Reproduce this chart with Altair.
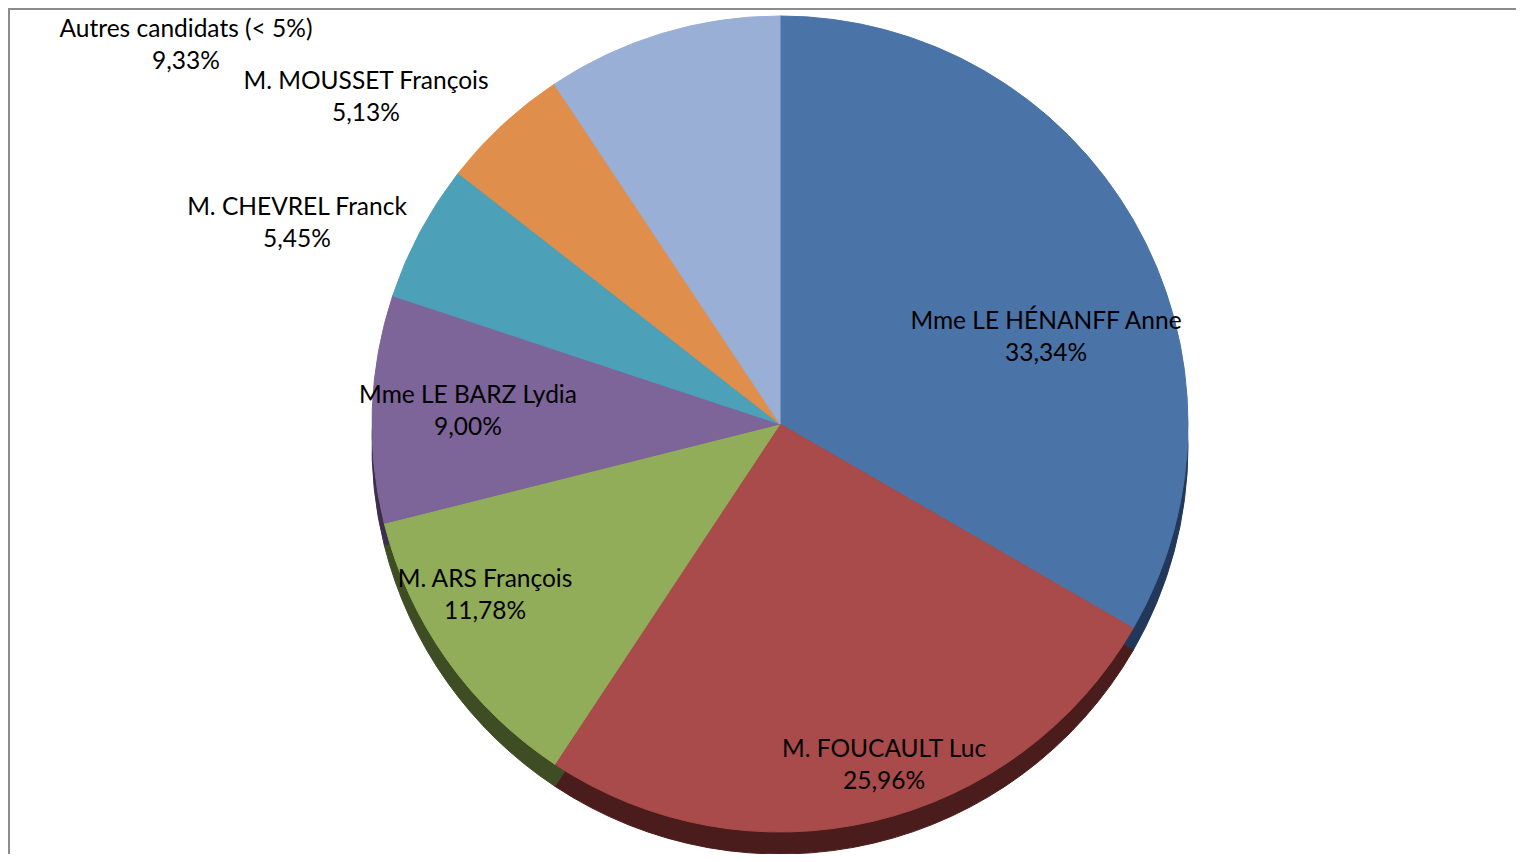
import altair as alt
import pandas as pd

# ---- data ----
candidats = [
    "Mme LE HÉNANFF Anne",
    "M. FOUCAULT Luc",
    "M. ARS François",
    "Mme LE BARZ Lydia",
    "M. CHEVREL Franck",
    "M. MOUSSET François",
    "Autres candidats (< 5%)",
]
pourcentages = [33.34, 25.96, 11.78, 9.00, 5.45, 5.13, 9.33]

# ---- styles / layout ----
couleurs = ["#4A73A7", "#A94B4A", "#92AD5A", "#7D6499", "#4CA0B8", "#E08E4B", "#9AAFD5"]
ombres = ["#22385A", "#4A1C1B", "#3F4D24", "#3C2F4B", "#23505C", "#6E4422", "#4A5568"]
W, H = 1508, 846
CX, CY = 772, 416
R = 408
DEPTH = 22
# label positions (view pixels: block centre x, first line y)
label_x = [1038, 876, 477, 460, 289, 358, 178]
label_y = [314, 742, 572, 388, 200, 74, 22]

df = pd.DataFrame({
    "candidat": candidats,
    "pct": pourcentages,
    "ordre": list(range(len(candidats))),
    "label": [c + "\n" + f"{p:.2f}".replace(".", ",") + "%" for c, p in zip(candidats, pourcentages)],
    "fill": couleurs,
    "ombre": ombres,
    "lx": label_x,
    "ly": label_y,
})

base = alt.Chart(df)

shadow = base.mark_arc(outerRadius=R).encode(
    theta=alt.Theta("pct:Q", stack=True),
    order=alt.Order("ordre:Q"),
    color=alt.Color("ombre:N", scale=None),
    stroke=alt.Stroke("ombre:N", scale=None),
    x=alt.value(CX),
    y=alt.value(CY + DEPTH),
)

top = base.mark_arc(outerRadius=R).encode(
    theta=alt.Theta("pct:Q", stack=True),
    order=alt.Order("ordre:Q"),
    color=alt.Color("fill:N", scale=None),
    stroke=alt.Stroke("fill:N", scale=None),
    x=alt.value(CX),
    y=alt.value(CY),
)

labels = base.mark_text(
    font="Lato", fontSize=24.5, color="#000000", lineBreak="\n", lineHeight=32,
    align="center", baseline="middle",
).encode(
    x=alt.X("lx:Q", scale=None),
    y=alt.Y("ly:Q", scale=None),
    text="label:N",
)

border_top = alt.Chart(df).mark_rule(color="#8C8C8C", strokeWidth=2).encode(
    x=alt.value(0), x2=alt.value(W), y=alt.value(1)
)
border_left = alt.Chart(df).mark_rule(color="#8C8C8C", strokeWidth=2).encode(
    x=alt.value(1), y=alt.value(0), y2=alt.value(H)
)

chart = alt.layer(shadow, top, labels, border_top, border_left).properties(
    width=W, height=H, padding=0, autosize="none",
).configure_view(stroke=None).configure(background="white")

chart.save("out.html", embed_options={"renderer": "svg", "actions": False})
